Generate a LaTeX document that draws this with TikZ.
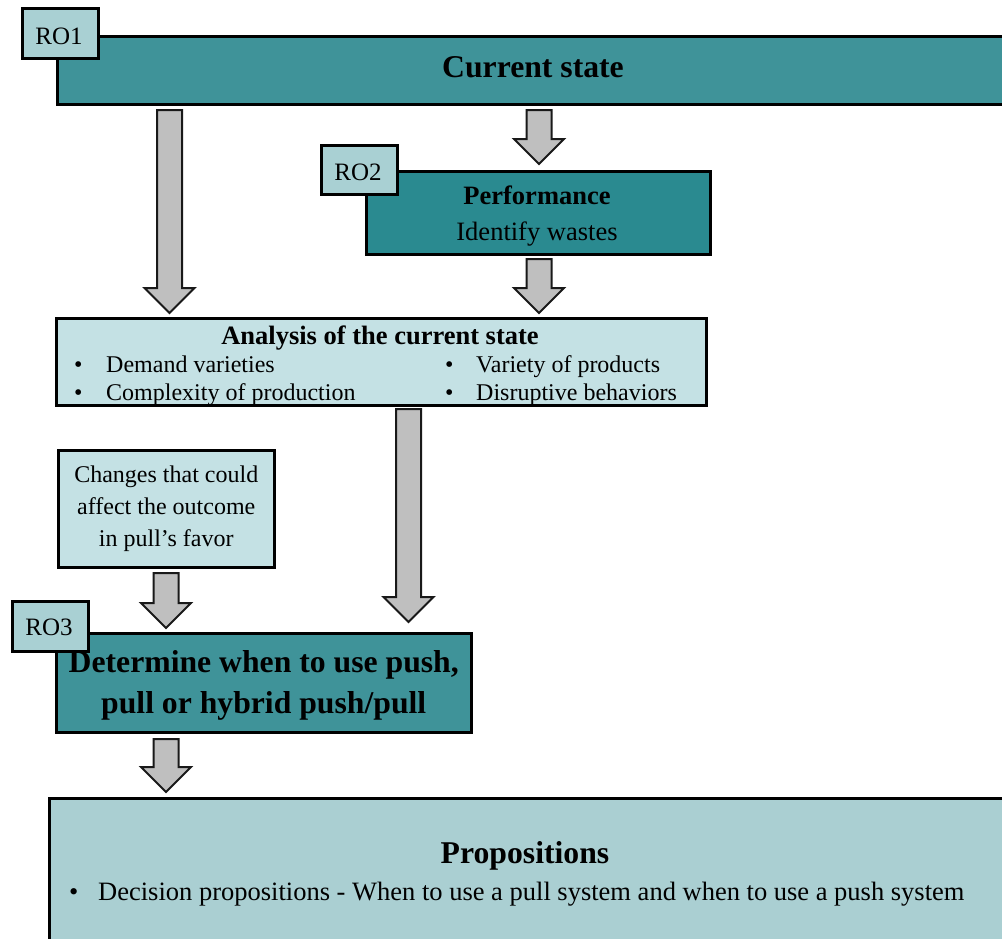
\documentclass[tikz,border=0pt]{standalone}
\usepackage{fontspec}
\setmainfont{Liberation Serif}
\usetikzlibrary{calc}

\definecolor{tealdark}{HTML}{3F9399}
\definecolor{tealperf}{HTML}{2A8A90}
\definecolor{tealpale}{HTML}{C4E1E4}
\definecolor{tealro}{HTML}{A9D0D3}
\definecolor{tealprop}{HTML}{AACFD2}
\definecolor{arrowgray}{HTML}{BFBFBF}

\newcommand\szSmall{\fontsize{24}{32}\selectfont}
\newcommand\szMid{\fontsize{26.5}{32}\selectfont}
\newcommand\szBig{\fontsize{31.7}{41}\selectfont}
\newcommand\szRO{\fontsize{25}{30}\selectfont}

% Block arrow pointing down from #1 (top of shaft) to #2 (tip)
\newcommand\blockarrow[2]{%
  \draw[blockarrow] let \p1=(#1), \p2=(#2) in
    (\x1-12.5pt,\y1) -- (\x1+12.5pt,\y1) -- (\x1+12.5pt,\y2+25pt)
    -- (\x1+25pt,\y2+25pt) -- (\x2,\y2) -- (\x1-25pt,\y2+25pt)
    -- (\x1-12.5pt,\y2+25pt) -- cycle;}

\tikzset{
  box/.style={draw=black, line width=2.5pt, inner sep=0pt, anchor=north west},
  robox/.style={box, fill=tealro, minimum width=76pt, minimum height=50pt},
  txt/.style={inner sep=0pt, anchor=base},
  txtl/.style={inner sep=0pt, anchor=base west},
  blockarrow/.style={fill=arrowgray, draw=black!90, line width=2pt, line join=miter},
}

\begin{document}
\begin{tikzpicture}[x=1pt, y=-1pt]
\clip (0,0) rectangle (1002,938);
\fill[white] (0,0) rectangle (1002,938);

% Current state (RO1)
\node[box, fill=tealdark, minimum width=954pt, minimum height=68pt] (cur) at (56,35) {};
\node[txt, font=\szBig\bfseries] (curT) at (533,77) {Current state};
\node[robox] (ro1) at (21,7) {};
\node[txt, font=\szRO] (ro1T) at (59,44) {RO1};

% Performance (RO2)
\node[box, fill=tealperf, minimum width=344pt, minimum height=83pt] (perf) at (365,170) {};
\node[txt, font=\szMid\bfseries] (perfT) at (537,204) {Performance};
\node[txt, font=\szMid] (perfS) at (537,240) {Identify wastes};
\node[robox, minimum height=49pt] (ro2) at (320,144) {};
\node[txt, font=\szRO] (ro2T) at (358,180) {RO2};

% Analysis of the current state
\node[box, fill=tealpale, minimum width=650pt, minimum height=87pt] (anal) at (55,317) {};
\node[txt, font=\szMid\bfseries] (analT) at (380,344) {Analysis of the current state};
\node[txtl, font=\szSmall] (b1) at (74,372) {•};
\node[txtl, font=\szSmall] (i1) at (106,372) {Demand varieties};
\node[txtl, font=\szSmall] (b2) at (74,400) {•};
\node[txtl, font=\szSmall] (i2) at (106,400) {Complexity of production};
\node[txtl, font=\szSmall] (b3) at (445,372) {•};
\node[txtl, font=\szSmall] (i3) at (476,372) {Variety of products};
\node[txtl, font=\szSmall] (b4) at (445,400) {•};
\node[txtl, font=\szSmall] (i4) at (476,400) {Disruptive behaviors};

% Changes in pull's favor
\node[box, fill=tealpale, minimum width=216pt, minimum height=117pt] (chg) at (57,449) {};
\node[inner sep=0pt, align=center, font=\szSmall] (chgT) at (chg.center)
  {Changes that could\\affect the outcome\\in pull’s favor};

% Determine push / pull (RO3)
\node[box, fill=tealdark, minimum width=415pt, minimum height=99pt] (det) at (55,632) {};
\node[inner sep=0pt, align=center, font=\szBig\bfseries] (detT) at ([yshift=-3pt]det.center)
  {Determine when to use push,\\pull or hybrid push/pull};
\node[robox] (ro3) at (11,600) {};
\node[txt, font=\szRO] (ro3T) at (49,635) {RO3};

% Propositions
\node[box, fill=tealprop, minimum width=960pt, minimum height=149pt] (prop) at (48,797) {};
\node[txt, font=\szBig\bfseries] (propT) at (525,863) {Propositions};
\node[txtl, font=\szMid] (pb) at (69,900) {•};
\node[txtl, font=\szMid] (pi) at (98,900)
  {Decision propositions - When to use a pull system and when to use a push system};

% Flow arrows
\coordinate (a1s) at (169.5,110); \coordinate (a1e) at (169.5,313);
\coordinate (a2s) at (539,110);   \coordinate (a2e) at (539,164);
\coordinate (a3s) at (539,259);   \coordinate (a3e) at (539,313);
\coordinate (a4s) at (408.5,409); \coordinate (a4e) at (408.5,622);
\coordinate (a5s) at (166,573);   \coordinate (a5e) at (166,628);
\coordinate (a6s) at (166,739);   \coordinate (a6e) at (166,792);
\blockarrow{a1s}{a1e}
\blockarrow{a2s}{a2e}
\blockarrow{a3s}{a3e}
\blockarrow{a4s}{a4e}
\blockarrow{a5s}{a5e}
\blockarrow{a6s}{a6e}
\end{tikzpicture}
\end{document}
